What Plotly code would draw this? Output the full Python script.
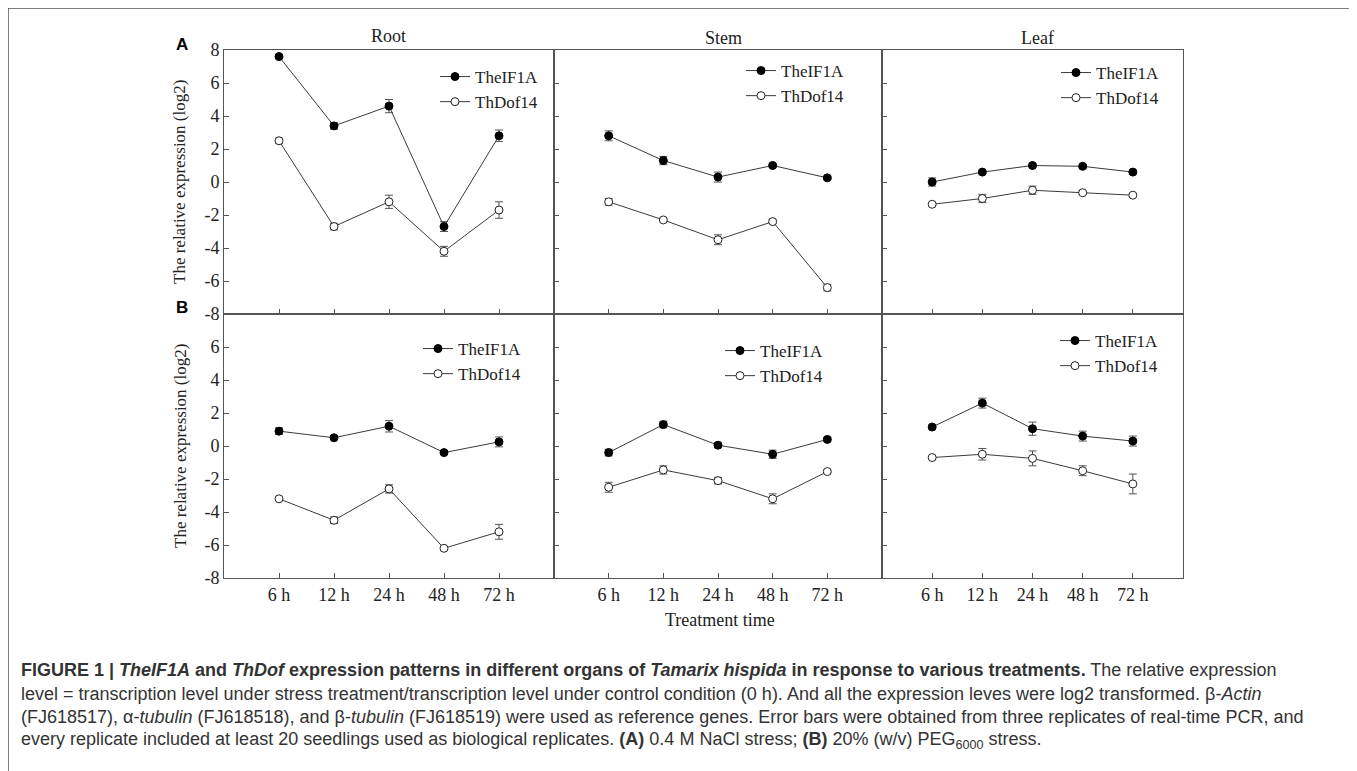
import plotly.graph_objects as go

W, H = 1357, 771
OFF = 8  # page body margin

categories = ["6 h", "12 h", "24 h", "48 h", "72 h"]
organs = ["Root", "Stem", "Leaf"]
genes = ["TheIF1A", "ThDof14"]
row_labels = ["A", "B"]
y_ticks_top = [8, 6, 4, 2, 0, -2, -4, -6, -8]
y_ticks_bottom = [6, 4, 2, 0, -2, -4, -6, -8]

# (A) 0.4 M NaCl
nacl_root_eif = [7.6, 3.4, 4.6, -2.7, 2.8]
nacl_root_eif_err = [0.1, 0.2, 0.4, 0.3, 0.35]
nacl_root_dof = [2.5, -2.7, -1.2, -4.2, -1.7]
nacl_root_dof_err = [0.15, 0.2, 0.4, 0.3, 0.5]
nacl_stem_eif = [2.8, 1.3, 0.3, 1.0, 0.25]
nacl_stem_eif_err = [0.3, 0.25, 0.3, 0.1, 0.1]
nacl_stem_dof = [-1.2, -2.3, -3.5, -2.4, -6.4]
nacl_stem_dof_err = [0.2, 0.1, 0.3, 0.1, 0.2]
nacl_leaf_eif = [0.0, 0.6, 1.0, 0.95, 0.6]
nacl_leaf_eif_err = [0.25, 0.1, 0.1, 0.1, 0.1]
nacl_leaf_dof = [-1.35, -1.0, -0.5, -0.65, -0.8]
nacl_leaf_dof_err = [0.1, 0.25, 0.25, 0.1, 0.1]

# (B) 20% PEG6000
peg_root_eif = [0.9, 0.5, 1.2, -0.4, 0.25]
peg_root_eif_err = [0.2, 0.1, 0.35, 0.1, 0.3]
peg_root_dof = [-3.2, -4.5, -2.6, -6.2, -5.2]
peg_root_dof_err = [0.1, 0.2, 0.25, 0.1, 0.45]
peg_stem_eif = [-0.4, 1.3, 0.05, -0.5, 0.4]
peg_stem_eif_err = [0.2, 0.2, 0.15, 0.25, 0.1]
peg_stem_dof = [-2.5, -1.45, -2.1, -3.2, -1.55]
peg_stem_dof_err = [0.3, 0.25, 0.2, 0.3, 0.1]
peg_leaf_eif = [1.15, 2.6, 1.05, 0.6, 0.3]
peg_leaf_eif_err = [0.1, 0.3, 0.4, 0.3, 0.3]
peg_leaf_dof = [-0.7, -0.5, -0.75, -1.5, -2.3]
peg_leaf_dof_err = [0.1, 0.35, 0.45, 0.3, 0.6]

panels = [
    (nacl_root_eif, nacl_root_eif_err, nacl_root_dof, nacl_root_dof_err),
    (nacl_stem_eif, nacl_stem_eif_err, nacl_stem_dof, nacl_stem_dof_err),
    (nacl_leaf_eif, nacl_leaf_eif_err, nacl_leaf_dof, nacl_leaf_dof_err),
    (peg_root_eif, peg_root_eif_err, peg_root_dof, peg_root_dof_err),
    (peg_stem_eif, peg_stem_eif_err, peg_stem_dof, peg_stem_dof_err),
    (peg_leaf_eif, peg_leaf_eif_err, peg_leaf_dof, peg_leaf_dof_err),
]

SERIF = "Liberation Serif, Times New Roman, serif"
SANS = "Liberation Sans, Arial, sans-serif"
AX = "#555555"
LINE = "#3a3a3a"
TXT = "#222222"


def px(x):
    return (x - OFF) / W


def py(y):
    return 1 - (y - OFF) / H


col_px = [(224, 554), (554, 882), (882, 1183)]
row_px = [(50, 314), (314, 578)]

# legend placement (text start x, first row center y) in pixels
legend_px = [(477, 73), (783, 67), (1098, 69), (460, 345), (762, 347), (1097, 337)]

fig = go.Figure()
layout = dict(
    width=W, height=H, margin=dict(l=0, r=0, t=0, b=0, pad=0, autoexpand=False),
    paper_bgcolor="white", plot_bgcolor="white", showlegend=True,
)

for i, (eif, eif_err, dof, dof_err) in enumerate(panels):
    r, c = divmod(i, 3)
    n = i + 1
    xa = "x" if n == 1 else f"x{n}"
    ya = "y" if n == 1 else f"y{n}"
    lg = "legend" if n == 1 else f"legend{n}"
    fig.add_trace(go.Scatter(
        x=categories, y=eif, xaxis=xa, yaxis=ya, name=genes[0], legend=lg,
        mode="lines+markers",
        line=dict(color=LINE, width=1),
        marker=dict(symbol="circle", size=8, color="black", line=dict(color="black", width=1)),
        error_y=dict(type="data", array=eif_err, visible=True, color="#555", thickness=1, width=4),
    ))
    fig.add_trace(go.Scatter(
        x=categories, y=dof, xaxis=xa, yaxis=ya, name=genes[1], legend=lg,
        mode="lines+markers",
        line=dict(color=LINE, width=1),
        marker=dict(symbol="circle", size=8, color="white", line=dict(color="#222", width=1)),
        error_y=dict(type="data", array=dof_err, visible=True, color="#555", thickness=1, width=4),
    ))
    x0, x1 = col_px[c]
    y0, y1 = row_px[r]
    xkey = "xaxis" if n == 1 else f"xaxis{n}"
    ykey = "yaxis" if n == 1 else f"yaxis{n}"
    layout[xkey] = dict(
        domain=[px(x0), px(x1)], anchor=ya, type="category",
        categoryorder="array", categoryarray=categories, automargin=False,
        range=[-1, 5], showline=True, linecolor=AX, linewidth=1, mirror=True,
        ticks="inside", ticklen=5, tickcolor=AX, showgrid=False, zeroline=False,
        showticklabels=(r == 1), tickfont=dict(family=SERIF, size=18, color=TXT),
    )
    tv = y_ticks_top if r == 0 else y_ticks_bottom
    layout[ykey] = dict(
        domain=[py(y1), py(y0)], anchor=xa, range=[-8, 8], automargin=False,
        tickvals=tv, ticktext=[str(v) for v in tv],
        showline=True, linecolor=AX, linewidth=1, mirror=True,
        ticks="inside", ticklen=5, tickcolor=AX, showgrid=False, zeroline=False,
        showticklabels=(c == 0), tickfont=dict(family=SERIF, size=18, color=TXT),
    )
    tx, ty = legend_px[i]
    layout[lg] = dict(
        x=px(tx - 42), y=py(ty - 14), xanchor="left", yanchor="top",
        bgcolor="rgba(0,0,0,0)", font=dict(family=SERIF, size=17, color=TXT),
        tracegroupgap=0, itemwidth=30,
    )

fig.update_layout(**layout)

annotations = []


def note(text, x, y, font, xanchor="center", angle=0):
    annotations.append(dict(text=text, x=px(x), y=py(y), xref="paper", yref="paper",
                            xanchor=xanchor, yanchor="middle", showarrow=False,
                            textangle=angle, font=font))


title_pos = [(388, 36), (723, 38), (1037, 38)]
for name, (x, y) in zip(organs, title_pos):
    note(name, x, y, dict(family=SERIF, size=18, color=TXT))
for lab, y in zip(row_labels, [44, 308]):
    note(f"<b>{lab}</b>", 182, y, dict(family=SANS, size=17, color="black"))
for y in [182, 446]:
    note("The relative expression (log2)", 180, y, dict(family=SERIF, size=17, color=TXT), angle=-90)
note("Treatment time", 720, 620, dict(family=SERIF, size=18, color=TXT))

caption = [
    "<b>FIGURE 1 | <i>TheIF1A</i> and <i>ThDof</i> expression patterns in different organs of <i>Tamarix hispida</i> in response to various treatments.</b> The relative expression",
    "level = transcription level under stress treatment/transcription level under control condition (0 h). And all the expression leves were log2 transformed. β-<i>Actin</i>",
    "(FJ618517), α-<i>tubulin</i> (FJ618518), and β-<i>tubulin</i> (FJ618519) were used as reference genes. Error bars were obtained from three replicates of real-time PCR, and",
    "every replicate included at least 20 seedlings used as biological replicates. <b>(A)</b> 0.4 M NaCl stress; <b>(B)</b> 20% (w/v) PEG<sub>6000</sub> stress.",
]
for k, line in enumerate(caption):
    note(line, 19, 670 + k * 23.5, dict(family=SANS, size=18, color="#333"), xanchor="left")

fig.update_layout(annotations=annotations)

fig.add_shape(type="rect", xref="paper", yref="paper",
              x0=px(8), x1=px(1355), y0=py(8), y1=py(790),
              line=dict(color="#555", width=1.5), fillcolor="rgba(0,0,0,0)", layer="below")

fig.write_html("out.html")
